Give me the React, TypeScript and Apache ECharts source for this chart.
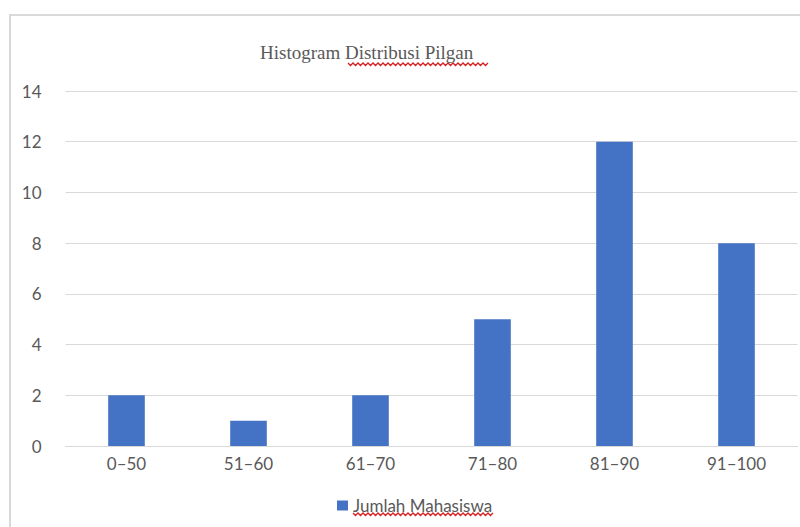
import React, { useEffect, useRef } from "react";
import * as echarts from "echarts";

const categories = ["0–50", "51–60", "61–70", "71–80", "81–90", "91–100"];
const counts = [2, 1, 2, 5, 12, 8];
const seriesName = "Jumlah Mahasiswa";
const titleText = "Histogram Distribusi Pilgan";
const yMin = 0;
const yMax = 14;
const yStep = 2;

function wavy(x0: number, x1: number, y: number) {
  const pts: number[][] = [];
  let up = true;
  for (let x = x0; x <= x1; x += 2.5) {
    pts.push([x, up ? y : y + 2.5]);
    up = !up;
  }
  return pts;
}

export default function App() {
  const ref = useRef<HTMLDivElement>(null);
  useEffect(() => {
    if (!ref.current) return;
    const chart = echarts.init(ref.current, null, { renderer: "svg" });
    const labelFont = "Lato, 'Open Sans', sans-serif";
    chart.setOption({
      animation: false,
      backgroundColor: "#ffffff",
      title: {
        text: titleText,
        left: 255,
        top: 38,
        textStyle: {
          fontFamily: "'Liberation Serif', serif",
          fontSize: 19,
          fontWeight: "normal",
          color: "#595959",
        },
      },
      legend: {
        data: [seriesName],
        left: 332,
        top: 492,
        icon: "rect",
        itemWidth: 11,
        itemHeight: 10,
        itemGap: 5,
        textStyle: { fontFamily: labelFont, fontSize: 17, color: "#595959" },
      },
      grid: {
        left: 65.5,
        right: 2.5,
        top: 91,
        bottom: 81,
        containLabel: false,
        outerBoundsMode: "none",
      },
      xAxis: {
        type: "category",
        data: categories,
        axisTick: { show: false },
        axisLine: { lineStyle: { color: "#d9d9d9", width: 1 } },
        axisLabel: { color: "#595959", fontFamily: labelFont, fontSize: 17, margin: 9 },
      },
      yAxis: {
        type: "value",
        min: yMin,
        max: yMax,
        interval: yStep,
        axisLine: { show: false },
        axisTick: { show: false },
        splitLine: { lineStyle: { color: "#d9d9d9", width: 1 } },
        axisLabel: { color: "#595959", fontFamily: labelFont, fontSize: 17, margin: 24 },
      },
      series: [
        {
          name: seriesName,
          type: "bar",
          data: counts,
          barWidth: "30%",
          itemStyle: { color: "#4472C4" },
        },
      ],
      graphic: [
        {
          type: "rect",
          shape: { x: 10, y: 15, width: 820, height: 540 },
          style: { fill: "none", stroke: "#d9d9d9", lineWidth: 2 },
          silent: true,
        },
        {
          type: "polyline",
          shape: { points: wavy(348, 488, 63) },
          style: { fill: "none", stroke: "#d42020", lineWidth: 1.3 },
          silent: true,
        },
        {
          type: "polyline",
          shape: { points: wavy(353, 493, 513) },
          style: { fill: "none", stroke: "#d42020", lineWidth: 1.3 },
          silent: true,
        },
      ],
    });
    return () => chart.dispose();
  }, []);
  return (
    <div
      ref={ref}
      style={{ position: "fixed", left: 0, top: 0, width: 800, height: 527 }}
    />
  );
}
